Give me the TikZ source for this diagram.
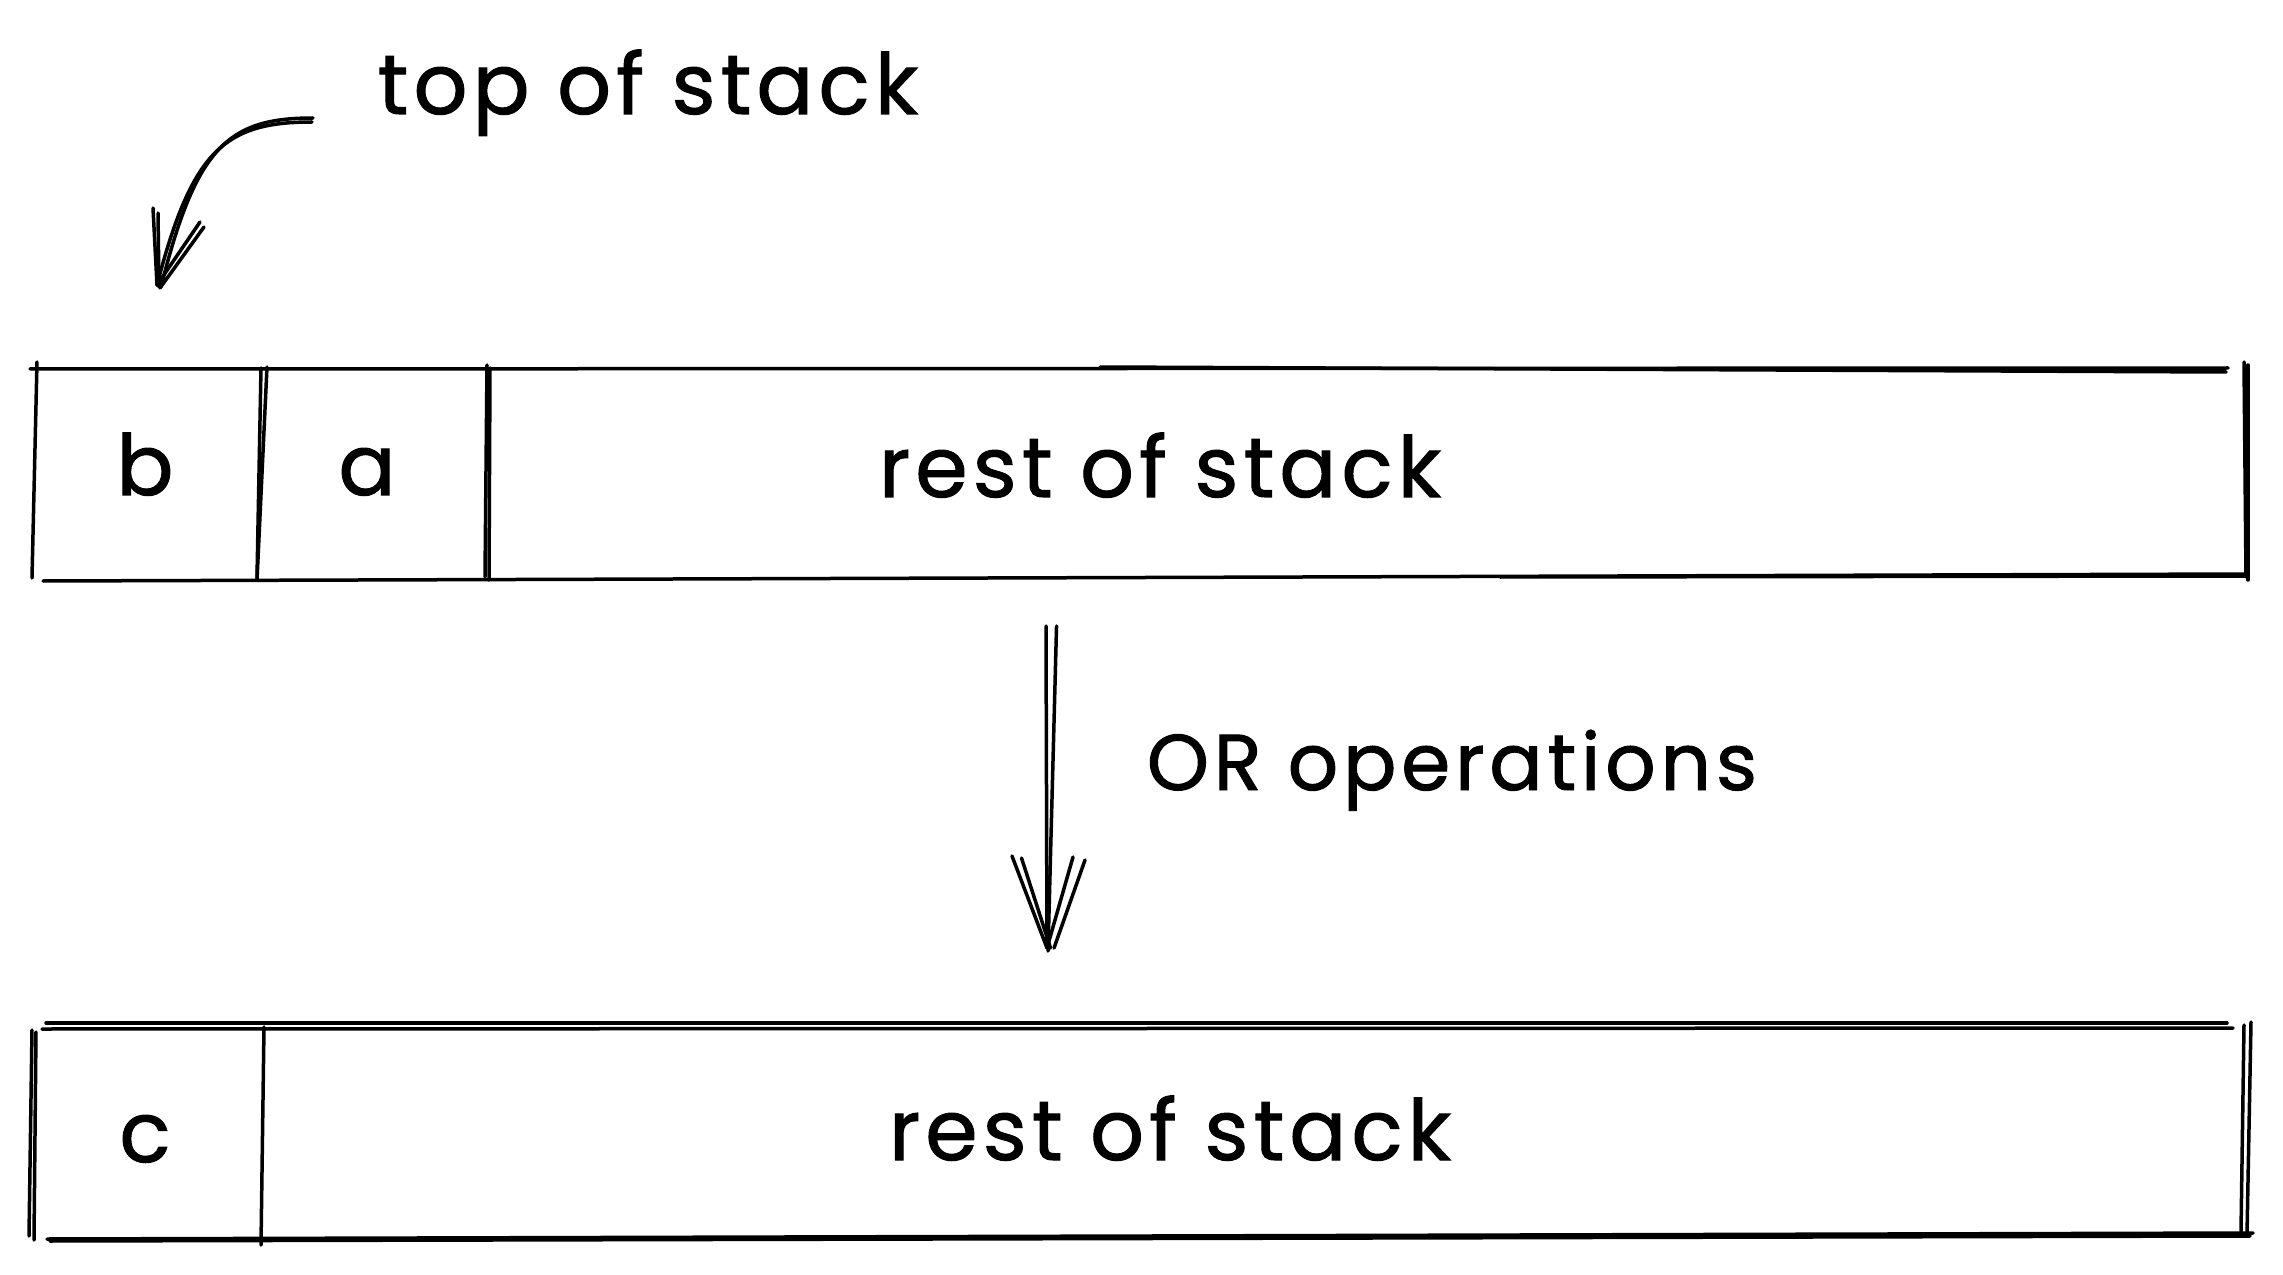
\documentclass[tikz,border=0pt]{standalone}
\usepackage{fontspec}
\setmainfont{Poppins}[LetterSpace=6, FakeBold=1.2]
\begin{document}
\begin{tikzpicture}[x=0.1mm,y=-0.1mm,
  ink/.style={line width=0.35mm, line cap=round, line join=round, black},
  lbl/.style={font=\fontsize{24pt}{28pt}\selectfont, inner sep=0pt, anchor=base},
]
\fill[white] (0,0) rectangle (2283,1275);
\useasboundingbox (0,0) rectangle (2283,1275);

% labels
\node[lbl] (tos)   at (648,114)   {top of stack};
\node[lbl] (b)     at (145,495)   {b};
\node[lbl] (a)     at (367,495)   {a};
\node[lbl] (rest1) at (1160,497)  {rest of stack};
\node[lbl, font=\fontsize{22.5pt}{27pt}\selectfont] (ops) at (1452,790) {OR operations};
\node[lbl] (c)     at (145,1162)  {c};
\node[lbl] (rest2) at (1170,1160) {rest of stack};

% upper stack strip
\draw[ink] (30,369) -- (2228,368);
\draw[ink] (1100,367) -- (2226,372);
\draw[ink] (43,581) -- (2247,574);
\draw[ink] (1500,577) -- (2245,576);
\draw[ink] (37,362) -- (32,578);
\draw[ink] (2244,362) -- (2246,577);
\draw[ink] (2248,365) -- (2248,580);
\draw[ink] (267,367) -- (257,580);
\draw[ink] (261,368) -- (257,578);
\draw[ink] (487,365) -- (485,577);
\draw[ink] (490,368) -- (489,580);

% lower stack strip
\draw[ink] (46,1023) -- (2227,1023);
\draw[ink] (42,1029) -- (2233,1028);
\draw[ink] (32,1030) -- (29,1236);
\draw[ink] (36,1032) -- (34,1240);
\draw[ink] (47,1239) -- (2253,1233);
\draw[ink] (50,1241) -- (2250,1236);
\draw[ink] (2244,1025) -- (2241,1232);
\draw[ink] (2251,1022) -- (2247,1235);
\draw[ink] (264,1027) -- (261,1245);

% transition arrow
\coordinate (dtop) at (1046,626);
\coordinate (dtip) at (1047,948);
\draw[ink] (dtop) -- (dtip);
\draw[ink] ([xshift=3]dtop) -- ([shift={(1,3)}]dtip);
\draw[ink] (dtip) -- ++(-35,-92);
\draw[ink] ([xshift=1]dtip) -- ++(-29,-90);
\draw[ink] (dtip) -- ++(26,-91);
\draw[ink] ([xshift=2]dtip) -- ++(31,-88);

% pointer to the top cell
\coordinate (cst) at (312,122);
\coordinate (cend) at (157,285);
\draw[ink] (cst) .. controls (225,122) and (192,150) .. (cend);
\draw[ink] ([shift={(1,-4)}]cst) .. controls (228,118) and (196,147) .. ([shift={(4,2)}]cend);
\draw[ink] (cend) -- ++(-4,-77);
\draw[ink] ([shift={(2,2)}]cend) -- ++(-1,-74);
\draw[ink] (cend) -- ++(43,-63);
\draw[ink] ([shift={(3,3)}]cend) -- ++(44,-61);
\end{tikzpicture}
\end{document}
